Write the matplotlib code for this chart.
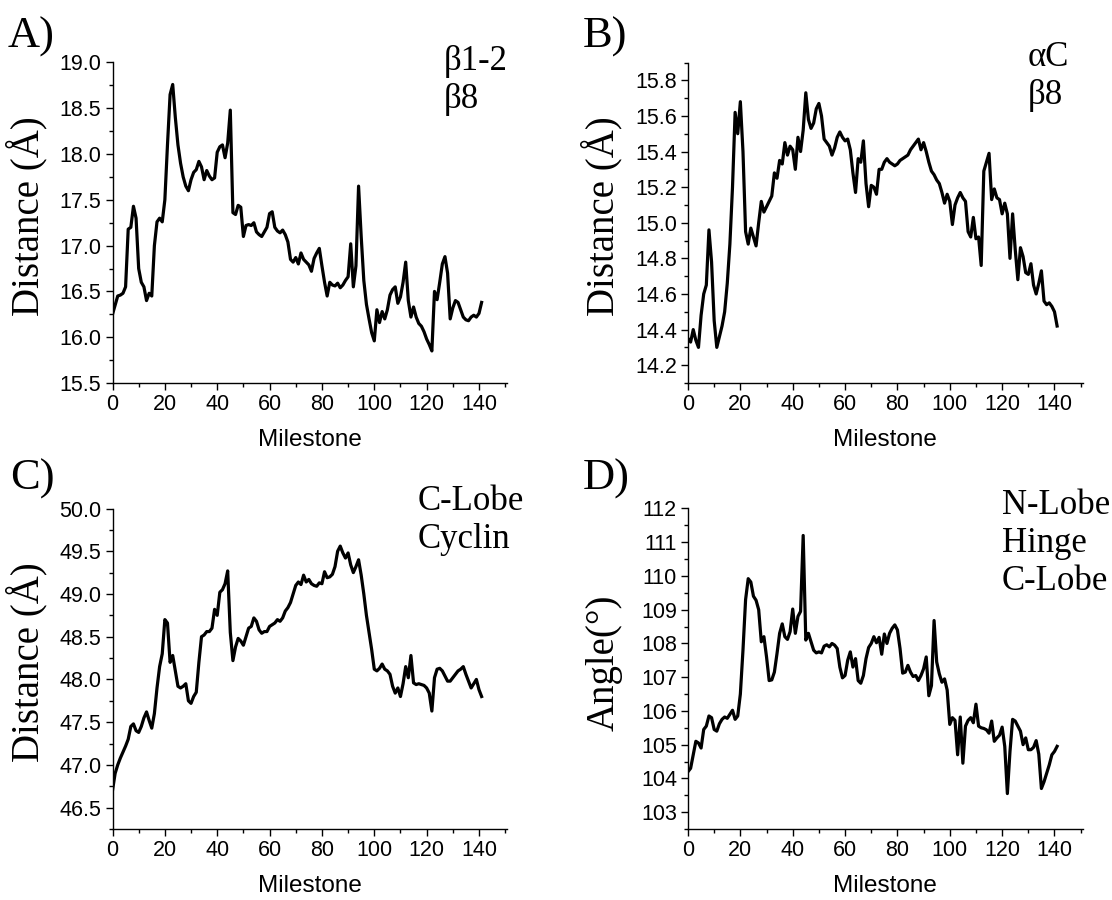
#!/usr/bin/env python3

"""
plot.py

Four panels of distances / angle along the milestones.
"""

import matplotlib

matplotlib.use('Agg')
import matplotlib.pyplot as plt
from matplotlib.ticker import FormatStrFormatter, MultipleLocator


milestones = list(range(142))

# A) beta1-2 / beta8 distance
beta12_beta8 = [
    16.25, 16.35, 16.45, 16.46, 16.48, 16.55, 17.18, 17.20, 17.43, 17.30,
    16.75, 16.60, 16.55, 16.40, 16.48, 16.45, 17.00, 17.26, 17.30, 17.26,
    17.50, 18.10, 18.65, 18.76, 18.40, 18.10, 17.90, 17.75, 17.65, 17.60,
    17.72, 17.80, 17.83, 17.92, 17.86, 17.72, 17.82, 17.76, 17.72, 17.74,
    18.02, 18.08, 18.10, 17.96, 18.12, 18.48, 17.36, 17.34, 17.44, 17.42,
    17.10, 17.22, 17.23, 17.22, 17.25, 17.15, 17.12, 17.10, 17.15, 17.20,
    17.35, 17.37, 17.20, 17.16, 17.14, 17.17, 17.12, 17.04, 16.85, 16.82,
    16.87, 16.80, 16.92, 16.85, 16.82, 16.79, 16.72, 16.86, 16.92, 16.97,
    16.78, 16.60, 16.45, 16.60, 16.57, 16.56, 16.59, 16.54, 16.57, 16.62,
    16.66, 17.02, 16.55, 16.78, 17.65, 17.10, 16.62, 16.36, 16.20, 16.05,
    15.96, 16.30, 16.16, 16.28, 16.20, 16.30, 16.46, 16.52, 16.55, 16.37,
    16.44, 16.60, 16.82, 16.40, 16.22, 16.33, 16.22, 16.15, 16.12, 16.06,
    15.98, 15.92, 15.85, 16.50, 16.41, 16.60, 16.80, 16.88, 16.70, 16.20,
    16.32, 16.40, 16.38, 16.30, 16.22, 16.19, 16.18, 16.22, 16.24, 16.22,
    16.26, 16.38,
]

# B) alphaC / beta8 distance
alphac_beta8 = [
    14.35, 14.33, 14.40, 14.34, 14.30, 14.48, 14.60, 14.65, 14.96, 14.78,
    14.45, 14.30, 14.36, 14.42, 14.50, 14.66, 14.88, 15.20, 15.62, 15.50,
    15.68, 15.40, 14.95, 14.88, 14.97, 14.92, 14.87, 15.00, 15.12, 15.06,
    15.09, 15.12, 15.15, 15.28, 15.25, 15.35, 15.33, 15.45, 15.38, 15.43,
    15.41, 15.30, 15.48, 15.40, 15.52, 15.73, 15.58, 15.53, 15.56, 15.64,
    15.67, 15.60, 15.47, 15.45, 15.43, 15.38, 15.42, 15.48, 15.51, 15.48,
    15.46, 15.47, 15.41, 15.28, 15.17, 15.36, 15.34, 15.46, 15.22, 15.09,
    15.21, 15.20, 15.16, 15.30, 15.30, 15.34, 15.36, 15.34, 15.33, 15.32,
    15.33, 15.35, 15.36, 15.37, 15.38, 15.41, 15.43, 15.45, 15.47, 15.41,
    15.45, 15.40, 15.34, 15.29, 15.27, 15.24, 15.22, 15.17, 15.11, 15.16,
    15.12, 14.99, 15.10, 15.14, 15.17, 15.14, 15.12, 14.95, 14.92, 15.03,
    14.91, 14.92, 14.76, 15.29, 15.34, 15.39, 15.13, 15.19, 15.14, 15.13,
    15.05, 15.11, 15.05, 14.80, 15.05, 14.85, 14.68, 14.86, 14.81, 14.72,
    14.71, 14.77, 14.65, 14.60, 14.66, 14.73, 14.56, 14.54, 14.55, 14.53,
    14.50, 14.42,
]

# C) C-Lobe / Cyclin distance
clobe_cyclin = [
    46.70, 46.90, 47.00, 47.08, 47.15, 47.22, 47.30, 47.45, 47.48, 47.40,
    47.38, 47.45, 47.55, 47.62, 47.52, 47.43, 47.60, 47.90, 48.15, 48.30,
    48.70, 48.66, 48.20, 48.28, 48.10, 47.92, 47.90, 47.92, 47.95, 47.75,
    47.72, 47.80, 47.85, 48.20, 48.50, 48.52, 48.56, 48.56, 48.60, 48.82,
    48.75, 49.02, 49.05, 49.12, 49.27, 48.55, 48.22, 48.38, 48.48, 48.45,
    48.40, 48.50, 48.60, 48.62, 48.72, 48.68, 48.58, 48.54, 48.56, 48.56,
    48.62, 48.64, 48.66, 48.70, 48.68, 48.72, 48.80, 48.84, 48.90, 49.00,
    49.10, 49.14, 49.11, 49.22, 49.14, 49.17, 49.12, 49.10, 49.09, 49.13,
    49.12, 49.26, 49.19, 49.20, 49.23, 49.32, 49.50, 49.56, 49.48, 49.42,
    49.48, 49.34, 49.25, 49.32, 49.40, 49.22, 49.00, 48.75, 48.55, 48.35,
    48.12, 48.10, 48.13, 48.18, 48.12, 48.10, 48.06, 47.92, 47.84, 47.90,
    47.80, 47.95, 48.15, 48.02, 48.28, 47.96, 47.94, 47.95, 47.94, 47.93,
    47.90, 47.84, 47.63, 48.02, 48.12, 48.13, 48.10, 48.04, 47.98, 47.98,
    48.02, 48.06, 48.10, 48.12, 48.15, 48.06, 47.98, 47.90, 47.95, 48.00,
    47.88, 47.80,
]

# D) N-Lobe / Hinge / C-Lobe angle
hinge_angle = [
    104.20, 104.30, 104.70, 105.10, 105.05, 104.90, 105.45, 105.55, 105.85, 105.80,
    105.45, 105.40, 105.62, 105.75, 105.82, 105.78, 105.90, 106.02, 105.75, 105.85,
    106.50, 107.80, 109.30, 109.92, 109.82, 109.40, 109.28, 109.00, 108.05, 108.20,
    107.60, 106.90, 106.92, 107.15, 107.70, 108.30, 108.58, 108.20, 108.12, 108.35,
    109.02, 108.30, 108.80, 108.95, 111.20, 108.10, 108.30, 108.05, 107.80, 107.72,
    107.75, 107.72, 107.92, 107.96, 107.90, 108.00, 107.95, 107.85, 107.30, 106.98,
    107.05, 107.50, 107.75, 107.30, 107.55, 106.90, 106.82, 107.05, 107.55, 107.88,
    108.00, 108.20, 108.02, 108.18, 107.68, 108.28, 108.00, 108.30, 108.45, 108.55,
    108.40, 107.85, 107.12, 107.15, 107.35, 107.15, 107.02, 107.05, 106.90, 107.05,
    107.25, 107.60, 106.45, 106.75, 108.68, 107.45, 107.10, 106.85, 106.95, 106.62,
    105.60, 105.80, 105.72, 104.70, 105.82, 104.45, 105.55, 105.72, 105.80, 105.65,
    106.20, 105.55, 105.50, 105.48, 105.44, 105.34, 105.70, 105.10, 105.20, 105.28,
    105.52, 104.95, 103.55, 104.80, 105.75, 105.70, 105.55, 105.40, 105.00, 105.20,
    104.85, 104.85, 104.92, 105.12, 104.72, 103.70, 103.90, 104.15, 104.40, 104.70,
    104.80, 104.95,
]

SERIF = 'Liberation Serif'
SANS = 'Liberation Sans'


def make_panel(fig, rect, values, ylim, major, minor, fmt, ylabel, letter, letter_xy, notes, note_x, note_y):
    ax = fig.add_axes(rect)
    ax.plot(milestones, values, color='black', lw=2.3, solid_joinstyle='round')

    ax.set_xlim(0, 150.7)
    ax.set_ylim(*ylim)
    ax.xaxis.set_major_locator(MultipleLocator(20))
    ax.xaxis.set_minor_locator(MultipleLocator(10))
    ax.yaxis.set_major_locator(MultipleLocator(major))
    ax.yaxis.set_minor_locator(MultipleLocator(minor))
    ax.yaxis.set_major_formatter(FormatStrFormatter(fmt))

    for side in ('top', 'right'):
        ax.spines[side].set_visible(False)
    for side in ('left', 'bottom'):
        ax.spines[side].set_linewidth(1.0)
    ax.tick_params(which='major', direction='out', length=5, width=1.0, labelsize=15.5, pad=3)
    ax.tick_params(which='minor', direction='out', length=3, width=1.0)
    for label in ax.get_xticklabels() + ax.get_yticklabels():
        label.set_fontfamily(SANS)

    ax.set_xlabel('Milestone', fontsize=17.5, fontfamily=SANS)
    ax.xaxis.set_label_coords(0.5, -0.145)
    ax.set_ylabel(ylabel, fontsize=28, fontfamily=SERIF)
    ax.yaxis.set_label_coords(-0.165, 0.52)

    fig.text(letter_xy[0] / 1112, 1 - letter_xy[1] / 900, letter,
             fontsize=32, fontfamily=SERIF, va='baseline', ha='left')
    for i, note in enumerate(notes):
        fig.text(note_x / 1112, 1 - (note_y + 38 * i) / 900, note,
                 fontsize=25, fontfamily=SERIF, va='baseline', ha='left')
    return ax


def main():
    fig = plt.figure(figsize=(11.12, 9.0), dpi=100)

    width = 394.5 / 1112
    height = 320.5 / 900
    left_a = 112.5 / 1112
    left_b = 688.0 / 1112
    bottom_top = (900 - 383) / 900
    bottom_low = (900 - 829) / 900

    make_panel(fig, [left_a, bottom_top, width, height], beta12_beta8,
               (15.5, 19.0), 0.5, 0.25, '%.1f', 'Distance (Å)',
               'A)', (8, 48), ['β1-2', 'β8'], 444, 70)
    make_panel(fig, [left_b, bottom_top, width, height], alphac_beta8,
               (14.1, 15.9), 0.2, 0.1, '%.1f', 'Distance (Å)',
               'B)', (583, 48), ['αC', 'β8'], 1028, 66)
    make_panel(fig, [left_a, bottom_low, width, height], clobe_cyclin,
               (46.25, 50.0), 0.5, 0.25, '%.1f', 'Distance (Å)',
               'C)', (10, 490), ['C-Lobe', 'Cyclin'], 418, 510)
    make_panel(fig, [left_b, bottom_low, width, height], hinge_angle,
               (102.5, 112.0), 1, 0.5, '%d', 'Angle(°)',
               'D)', (583, 490), ['N-Lobe', 'Hinge', 'C-Lobe'], 1002, 514)

    fig.savefig('out.png', dpi=100)


if __name__ == '__main__':
    main()
